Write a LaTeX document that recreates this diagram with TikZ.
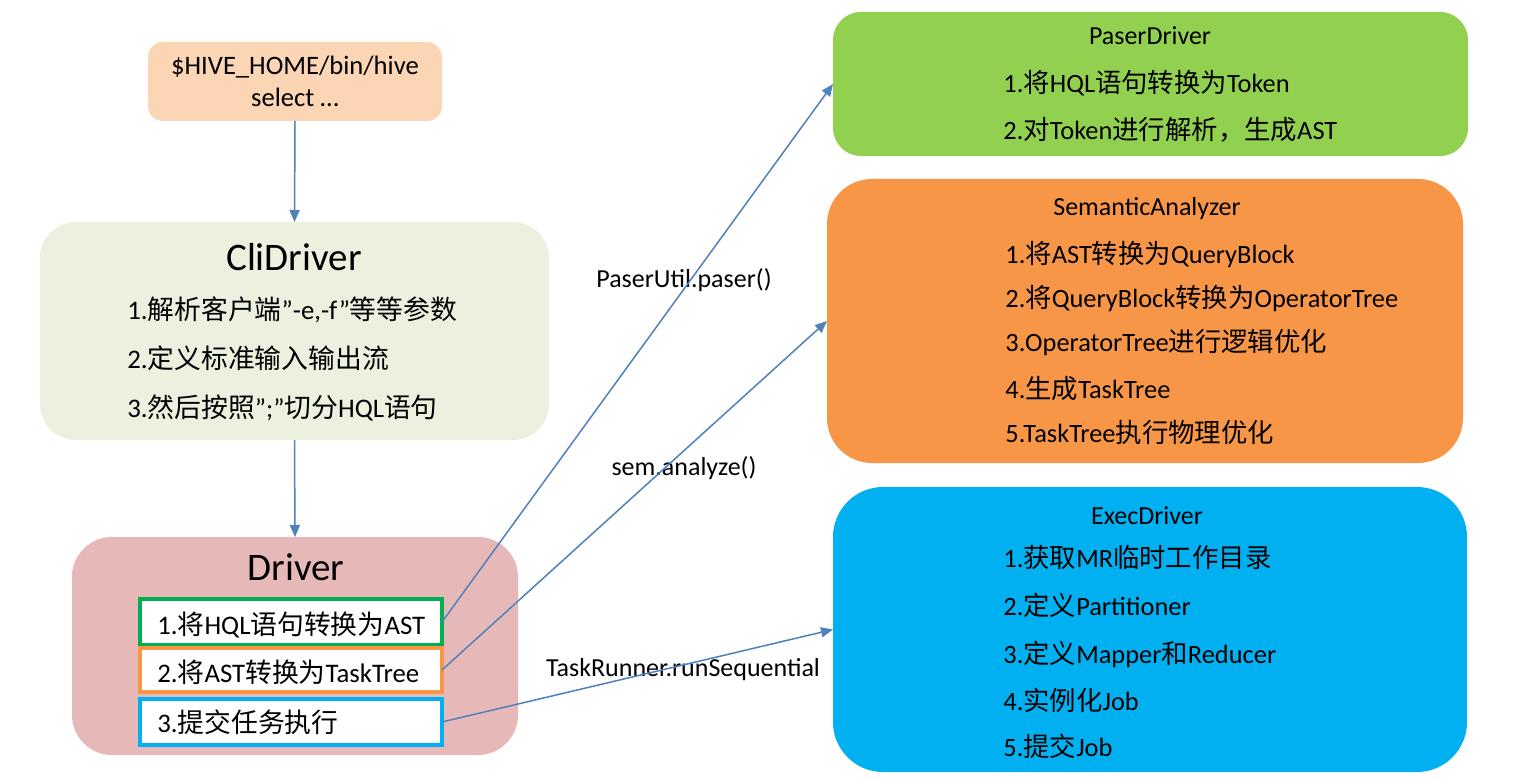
\documentclass[tikz,border=0pt]{standalone}
\usepackage{fontspec}
\setmainfont{Carlito}
\newfontfamily\cjkfont{Noto Sans CJK SC}
\usetikzlibrary{arrows.meta}
\newcommand\zh[1]{{\cjkfont #1}}
\definecolor{peach}{HTML}{FCD5B5}
\definecolor{cligreen}{HTML}{EBF1DE}
\definecolor{drvpink}{HTML}{E6B9B8}
\definecolor{pdgreen}{HTML}{92D050}
\definecolor{saorange}{HTML}{F79646}
\definecolor{edblue}{HTML}{00B0F0}
\definecolor{subgreen}{HTML}{00B050}
\definecolor{arrblue}{HTML}{4F81BD}
\begin{document}
\begin{tikzpicture}[x=0.5pt,y=-0.5pt,
  rbox/.style={draw=none, rounded corners=#1, inner sep=0pt, outer sep=0pt},
  subbox/.style={draw=#1, fill=white, line width=1.75pt, minimum width=151pt, minimum height=23pt, inner sep=0pt, outer sep=0pt},
  txt/.style={anchor=west, inner sep=0pt, text height=11.7pt, text depth=1.6pt, font=\fontsize{13.4}{16}\selectfont},
  rtxt/.style={anchor=west, inner sep=0pt, text height=11.4pt, text depth=1.6pt, font=\fontsize{13.2}{16}\selectfont},
  ctxt/.style={anchor=center, inner sep=0pt, text height=9pt, text depth=2.5pt, font=\fontsize{13.3}{16}\selectfont},
  rtitle/.style={anchor=center, inner sep=0pt, text height=9pt, text depth=2.5pt, font=\fontsize{13}{16}\selectfont},
  bigtitle/.style={anchor=center, inner sep=0pt, text height=13pt, text depth=3.5pt, font=\fontsize{19.5}{22}\selectfont},
  lbl/.style={anchor=center, inner sep=0pt, text height=9pt, text depth=2.5pt, font=\fontsize{13}{16}\selectfont},
  arr/.style={draw=arrblue, line width=0.75pt, -{Triangle[length=6pt,width=5pt]}}]
\useasboundingbox (0,0) rectangle (1528,781);
\fill[white] (0,0) rectangle (1528,781);

% left column boxes
\node[rbox=7.5pt, fill=peach, minimum width=147pt, minimum height=39.5pt] (hive) at (295,81.5) {};
\node[ctxt] (hive1) at (295,68) {\$HIVE\_HOME/bin/hive};
\node[ctxt] (hive2) at (295,100) {select …};

\node[rbox=18pt, fill=cligreen, minimum width=254.5pt, minimum height=109pt] (cli) at (294.5,331) {};
\node[bigtitle] (clit) at (294,261) {CliDriver};
\node[txt] (cli1) at (127,309) {1.\zh{解析客户端}”-e,-f”\zh{等等参数}};
\node[txt] (cli2) at (127,358) {2.\zh{定义标准输入输出流}};
\node[txt] (cli3) at (127,407) {3.\zh{然后按照}”;”\zh{切分}HQL\zh{语句}};

\node[rbox=20pt, fill=drvpink, minimum width=223pt, minimum height=109pt] (drv) at (295,646) {};
\node[bigtitle] (drvt) at (296,571) {Driver};
\node[subbox=subgreen] (s1) at (291,622) {};
\node[subbox=saorange, minimum height=22pt] (s2) at (291,670) {};
\node[subbox=edblue] (s3) at (291,722) {};
\node[txt] (s1t) at (157,624) {1.\zh{将}HQL\zh{语句转换为}AST};
\node[txt] (s2t) at (157,672) {2.\zh{将}AST\zh{转换为}TaskTree};
\node[txt] (s3t) at (157,722) {3.\zh{提交任务执行}};

% right column boxes
\node[rbox=14pt, fill=pdgreen, minimum width=317.5pt, minimum height=72pt] (pd) at (1150.5,84) {};
\node[rtitle] (pdt) at (1150,38) {PaserDriver};
\node[rtxt] (pd1) at (1003,83) {1.\zh{将}HQL\zh{语句转换为}Token};
\node[rtxt] (pd2) at (1003,130) {2.\zh{对}Token\zh{进行解析，生成}AST};

\node[rbox=22.5pt, fill=saorange, minimum width=318pt, minimum height=142pt] (sa) at (1145,321) {};
\node[rtitle] (sat) at (1147,209) {SemanticAnalyzer};
\node[rtxt] (sa1) at (1005,254) {1.\zh{将}AST\zh{转换为}QueryBlock};
\node[rtxt] (sa2) at (1005,298) {2.\zh{将}QueryBlock\zh{转换为}OperatorTree};
\node[rtxt] (sa3) at (1005,342) {3.OperatorTree\zh{进行逻辑优化}};
\node[rtxt] (sa4) at (1005,389) {4.\zh{生成}TaskTree};
\node[rtxt] (sa5) at (1005,433) {5.TaskTree\zh{执行物理优化}};

\node[rbox=25pt, fill=edblue, minimum width=317pt, minimum height=142.5pt] (ed) at (1150,629.5) {};
\node[rtitle] (edt) at (1147,518) {ExecDriver};
\node[rtxt] (ed1) at (1003,558) {1.\zh{获取}MR\zh{临时工作目录}};
\node[rtxt] (ed2) at (1003,606) {2.\zh{定义}Partitioner};
\node[rtxt] (ed3) at (1003,654) {3.\zh{定义}Mapper\zh{和}Reducer};
\node[rtxt] (ed4) at (1003,701) {4.\zh{实例化}Job};
\node[rtxt] (ed5) at (1003,747) {5.\zh{提交}Job};

% labels
\node[lbl] (l1) at (684,281) {PaserUtil.paser()};
\node[lbl] (l2) at (684,469) {sem.analyze()};
\node[lbl] (l3) at (683,670) {TaskRunner.runSequential};

% connectors
\draw[arr] (hive.south) -- (cli.north);
\draw[arr] (cli.south) -- (drv.north);
\draw[arr] (s1.east) -- (pd.west);
\draw[arr] (s2.east) -- (sa.west);
\draw[arr] (s3.east) -- (ed.west);
\end{tikzpicture}
\end{document}
